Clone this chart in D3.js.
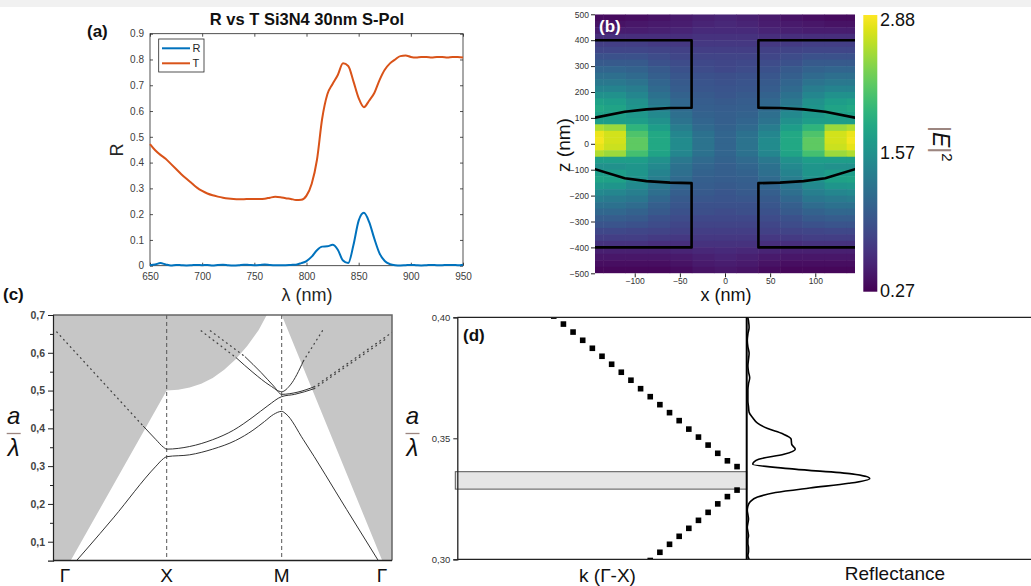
<!DOCTYPE html>
<html><head><meta charset="utf-8">
<script src="https://cdn.jsdelivr.net/npm/d3@7"></script>
<style>
body{margin:0;background:#fff}
svg{display:block}
text{font-family:"Liberation Sans",Arial,sans-serif}
</style>
</head><body>
<svg id="fig" width="1031" height="586"></svg>
<script>
// ---------- (a) spectra: wavelength (nm), reflectance R, transmittance T ----------
const wavelength = [650,655,660,665,670,675,680,685,690,695,700,705,710,715,720,725,730,735,740,745,750,755,760,765,770,775,780,785,790,795,800,805,810,815,820,825,830,835,840,845,850,855,860,865,870,875,880,885,890,895,900,905,910,915,920,925,930,935,940,945,950];
const transT = [0.472,0.448,0.430,0.415,0.395,0.375,0.355,0.337,0.320,0.303,0.290,0.280,0.273,0.268,0.264,0.261,0.259,0.258,0.258,0.259,0.259,0.259,0.260,0.264,0.267,0.266,0.262,0.259,0.255,0.256,0.272,0.318,0.410,0.570,0.665,0.705,0.740,0.785,0.775,0.715,0.650,0.615,0.640,0.670,0.720,0.760,0.785,0.800,0.813,0.815,0.810,0.808,0.810,0.810,0.808,0.810,0.810,0.808,0.810,0.810,0.808];
const reflR = [0.002,0.005,0.010,0.005,0.001,0.003,0.002,0.001,0.002,0.003,0.002,0.003,0.001,0.003,0.004,0.002,0.001,0.002,0.004,0.003,0.002,0.003,0.005,0.003,0.002,0.002,0.002,0.003,0.004,0.010,0.018,0.035,0.060,0.074,0.075,0.081,0.062,0.020,0.010,0.080,0.175,0.205,0.170,0.105,0.048,0.018,0.006,0.002,0.001,0.002,0.003,0.002,0.001,0.002,0.003,0.002,0.002,0.003,0.003,0.002,0.004];
const ticksLambda = [650,700,750,800,850,900,950];
const ticksR = [0,0.1,0.2,0.3,0.4,0.5,0.6,0.7,0.8,0.9];

// ---------- (b) |E|^2 map, right half (x >= 0); left half is its mirror image ----------
const fieldX = [0,24.5,49,73.5,98,122.5,147];           // column centres (nm)
const fieldZ = [487.5,462.5,437.5,412.5,387.5,362.5,337.5,312.5,287.5,262.5,237.5,212.5,187.5,162.5,137.5,112.5,87.5,62.5,37.5,12.5,
                -12.5,-37.5,-62.5,-87.5,-112.5,-137.5,-162.5,-187.5,-212.5,-237.5,-262.5,-287.5,-312.5,-337.5,-362.5,-387.5,-412.5,-437.5,-462.5,-487.5];
const fieldE2 = [
 [0.53,0.50,0.45,0.40,0.37,0.35,0.35],
 [0.56,0.53,0.48,0.45,0.43,0.40,0.40],
 [0.58,0.58,0.53,0.50,0.48,0.48,0.48],
 [0.64,0.64,0.61,0.61,0.61,0.61,0.61],
 [0.69,0.69,0.69,0.71,0.74,0.74,0.74],
 [0.74,0.74,0.77,0.79,0.82,0.82,0.82],
 [0.79,0.79,0.82,0.87,0.92,0.92,0.92],
 [0.82,0.84,0.87,0.92,1.00,1.00,1.00],
 [0.84,0.87,0.92,1.00,1.08,1.11,1.11],
 [0.90,0.92,0.97,1.05,1.16,1.21,1.21],
 [0.92,0.95,1.00,1.11,1.26,1.31,1.31],
 [0.95,0.97,1.03,1.16,1.37,1.44,1.44],
 [0.97,1.00,1.08,1.24,1.47,1.58,1.58],
 [1.00,1.03,1.13,1.31,1.58,1.71,1.76],
 [1.03,1.05,1.16,1.39,1.63,1.78,1.84],
 [1.05,1.08,1.21,1.50,1.65,1.73,1.76],
 [1.05,1.11,1.26,1.58,1.71,1.71,1.71],
 [1.08,1.16,1.37,1.71,1.97,2.49,2.57],
 [1.11,1.24,1.47,1.84,2.15,2.70,2.80],
 [1.11,1.26,1.52,1.84,2.23,2.70,2.83],
 [1.11,1.26,1.52,1.84,2.23,2.67,2.78],
 [1.11,1.24,1.47,1.78,2.10,2.49,2.57],
 [1.08,1.16,1.31,1.58,1.71,1.71,1.71],
 [1.05,1.11,1.24,1.50,1.63,1.58,1.58],
 [1.05,1.08,1.21,1.44,1.63,1.71,1.71],
 [1.03,1.05,1.16,1.37,1.58,1.76,1.78],
 [1.00,1.03,1.11,1.29,1.50,1.63,1.65],
 [0.97,1.00,1.05,1.21,1.39,1.47,1.50],
 [0.95,0.97,1.00,1.13,1.29,1.34,1.37],
 [0.92,0.92,0.97,1.05,1.18,1.24,1.24],
 [0.87,0.90,0.92,1.00,1.08,1.13,1.13],
 [0.84,0.84,0.87,0.92,1.00,1.03,1.03],
 [0.79,0.79,0.82,0.87,0.92,0.95,0.95],
 [0.74,0.74,0.77,0.79,0.82,0.84,0.84],
 [0.69,0.69,0.69,0.71,0.74,0.74,0.74],
 [0.64,0.64,0.61,0.61,0.64,0.64,0.64],
 [0.58,0.56,0.53,0.50,0.50,0.50,0.50],
 [0.53,0.50,0.45,0.43,0.43,0.43,0.43],
 [0.48,0.45,0.40,0.37,0.37,0.37,0.37],
 [0.43,0.40,0.35,0.32,0.32,0.32,0.32]
];
const e2Range = [0.27, 2.88];
const e2Ticks = [2.88, 1.57, 0.27];
// outline of the left pillar (nm); the right pillar is its mirror image
const pillarTop = [[-160,400],[-37,400],[-37,139],[-61,138],[-87,133],[-111,124],[-144,101],[-160,88]];
const pillarBottom = [[-160,-86],[-144,-98],[-111,-133],[-87,-144],[-61,-150],[-37,-152],[-37,-400],[-160,-400]];
const ticksZ = [-500,-400,-300,-200,-100,0,100,200,300,400,500];
const ticksXb = [-100,-50,0,50,100];

// ---------- (c) band diagram: k along Γ-X-M-Γ (0..3), frequency a/λ ----------
const kPoints = ["Γ","X","M","Γ"];
const lightLine = [[0,0],[1,0.5],[1.1,0.502],[1.2,0.508],[1.3,0.518],[1.4,0.533],[1.5,0.555],[1.6,0.583],[1.7,0.618],[1.8,0.66],[1.87,0.70],[1.93,0.74],[2,0.74],[2,0.70],[3,0]];
const guidedBands = [
 [[0,0],[0.5,0.163],[0.9,0.300],[0.97,0.320],[1,0.325],[1.2,0.330],[1.4,0.345],[1.6,0.368],[1.75,0.395],[1.85,0.418],[1.93,0.437],[2,0.445],[2.04,0.438],[2.2,0.37],[2.6,0.185],[3,0]],
 [[0.78,0.406],[0.9,0.37],[0.97,0.35],[1,0.345],[1.2,0.352],[1.4,0.37],[1.58,0.395],[1.75,0.43],[1.88,0.46],[2,0.484],[2.12,0.49],[2.3,0.505]],
 [[1.6,0.588],[1.75,0.548],[1.9,0.513],[2,0.497],[2.08,0.515],[2.2,0.578]],
 [[1.68,0.590],[1.82,0.548],[1.93,0.512],[2,0.49],[2.15,0.496],[2.3,0.51]]
];
const leakyBands = [
 [[-0.03,0.655],[0.78,0.406]],
 [[1.3,0.658],[1.6,0.588]],
 [[1.38,0.658],[1.68,0.590]],
 [[2.2,0.578],[2.38,0.66]],
 [[2.3,0.505],[2.98,0.64]],
 [[2.3,0.51],[3.05,0.66]]
];
const ticksC = [0.1,0.2,0.3,0.4,0.5,0.6,0.7];
const minorC = [0.15,0.25,0.35,0.45,0.55,0.65];

// ---------- (d) zoom near X: band points (k step index) and reflectance ----------
const upperK = [10,11,12,13,14,15,16,17,18,19,20,21,22,23,24,25,26,27,28,29];
const upperF = [0.4005,0.3972,0.3939,0.3905,0.3872,0.3839,0.3806,0.3773,0.3740,0.3705,0.3672,0.3639,0.3606,0.3573,0.3538,0.3505,0.3472,0.3438,0.3407,0.3383];
const lowerK = [20,21,22,23,24,25,26,27,28,29];
const lowerF = [0.2995,0.3029,0.3062,0.3095,0.3128,0.3161,0.3194,0.3229,0.3259,0.3286];
const gapBand = [0.3290, 0.3362];
const latticeA = 285;                     // lattice constant (nm)
const ticksD = [0.30,0.35,0.40];

const svg = d3.select("#fig");
svg.append("rect").attr("x",0).attr("y",0).attr("width",1031).attr("height",7).attr("fill","#f1f1f1");
const defs = svg.append("defs");
const comma = (d, n) => d.toFixed(n).replace(".", ",");

// ================= panel (a) =================
{
  const x = d3.scaleLinear([650,950],[150,463]);
  const y = d3.scaleLinear([0,0.9],[265.7,33.7]);
  const g = svg.append("g");
  const axc = "#262626";
  g.append("rect").attr("x",150).attr("y",33.7).attr("width",313).attr("height",232)
    .attr("fill","none").attr("stroke",axc).attr("stroke-width",0.8);
  g.append("g").attr("transform","translate(0,265.7)")
    .call(d3.axisBottom(x).tickValues(ticksLambda).tickSize(-3).tickPadding(7).tickFormat(d3.format("d")));
  g.append("g").attr("transform","translate(150,0)")
    .call(d3.axisLeft(y).tickValues(ticksR).tickSize(-3).tickPadding(6).tickFormat(d => d===0?"0":d3.format(".1f")(d)));
  // mirrored ticks on top and right edges
  g.append("g").attr("transform","translate(0,33.7)").call(d3.axisTop(x).tickValues(ticksLambda).tickSize(-3).tickFormat(""));
  g.append("g").attr("transform","translate(463,0)").call(d3.axisRight(y).tickValues(ticksR).tickSize(-3).tickFormat(""));
  g.selectAll(".domain").remove();
  g.selectAll(".tick line").attr("stroke",axc).attr("stroke-width",0.8);
  g.selectAll(".tick text").attr("fill","#404040").attr("font-size",10).attr("font-family","Liberation Sans, Arial");
  const line = d3.line().x(d => x(d[0])).y(d => y(d[1])).curve(d3.curveMonotoneX);
  g.append("path").datum(d3.zip(wavelength, reflR)).attr("d",line).attr("fill","none").attr("stroke","#0072BD").attr("stroke-width",2);
  g.append("path").datum(d3.zip(wavelength, transT)).attr("d",line).attr("fill","none").attr("stroke","#D95319").attr("stroke-width",2);
  // legend
  g.append("rect").attr("x",158.7).attr("y",39).attr("width",45.3).attr("height",33).attr("fill","#fff").attr("stroke","#262626").attr("stroke-width",0.8);
  [["R","#0072BD",48.3],["T","#D95319",63.3]].forEach(([t,c,yy]) => {
    g.append("line").attr("x1",162).attr("x2",190).attr("y1",yy).attr("y2",yy).attr("stroke",c).attr("stroke-width",2);
    g.append("text").attr("x",192.5).attr("y",yy+4).attr("font-size",11).attr("fill","#262626").text(t);
  });
  g.append("text").attr("x",307).attr("y",25).attr("text-anchor","middle").attr("font-size",16.5).attr("font-weight","bold").attr("fill","#111").text("R vs T Si3N4 30nm S-Pol");
  g.append("text").attr("transform","translate(123,150) rotate(-90)").attr("text-anchor","middle").attr("font-size",18).attr("fill","#262626").text("R");
  g.append("text").attr("x",307).attr("y",301).attr("text-anchor","middle").attr("font-size",18).attr("fill","#262626").text("λ (nm)");
  svg.append("text").attr("x",87).attr("y",37).attr("font-size",17).attr("font-weight","bold").attr("fill","#111").text("(a)");
}

// ================= panel (b) =================
{
  const x = d3.scaleLinear([-144,144],[595,855]);
  const z = d3.scaleLinear([-500,500],[273.3,14.3]);
  const color = d3.scaleSequential(d3.interpolateViridis).domain(e2Range);
  defs.append("clipPath").attr("id","clipB").append("rect")
    .attr("x",595).attr("y",14.3).attr("width",260).attr("height",259);
  const g = svg.append("g").attr("clip-path","url(#clipB)");
  const cells = [];
  fieldZ.forEach((zc, i) => fieldX.forEach((xc, j) => {
    cells.push({x: xc, z: zc, v: fieldE2[i][j]});
    if (xc > 0) cells.push({x: -xc, z: zc, v: fieldE2[i][j]});
  }));
  const dx = 24.5, dz = 25;
  g.selectAll("rect.cell").data(cells).join("rect").attr("class","cell")
    .attr("x", d => x(d.x - dx/2)).attr("width", x(dx) - x(0) + 0.5)
    .attr("y", d => z(d.z + dz/2)).attr("height", z(0) - z(dz) + 0.5)
    .attr("fill", d => color(d.v));
  const outline = d3.line().x(d => x(d[0])).y(d => z(d[1]));
  const mirror = pts => pts.map(p => [-p[0], p[1]]);
  [pillarTop, pillarBottom, mirror(pillarTop), mirror(pillarBottom)].forEach(pts => {
    g.append("path").attr("d", outline(pts)).attr("fill","none").attr("stroke","#000").attr("stroke-width",2.6).attr("stroke-linejoin","round");
  });
  // axes
  const ay = svg.append("g").attr("transform","translate(595,0)")
    .call(d3.axisLeft(z).tickValues(ticksZ).tickSize(4).tickPadding(2));
  const ax = svg.append("g").attr("transform","translate(0,273.3)")
    .call(d3.axisBottom(x).tickValues(ticksXb).tickSize(4).tickPadding(1));
  [ax, ay].forEach(a => {
    a.select(".domain").remove();
    a.selectAll(".tick line").attr("stroke","#222").attr("stroke-width",1);
    a.selectAll(".tick text").attr("fill","#333").attr("font-size",8.5);
  });
  svg.append("text").attr("transform","translate(570,145) rotate(-90)").attr("text-anchor","middle").attr("font-size",19).attr("fill","#111").text("z (nm)");
  svg.append("text").attr("x",726).attr("y",301).attr("text-anchor","middle").attr("font-size",18).attr("fill","#111").text("x (nm)");
  svg.append("text").attr("x",599).attr("y",32).attr("font-size",17).attr("font-weight","bold").attr("fill","#fff").text("(b)");
  // colour bar
  const grad = defs.append("linearGradient").attr("id","viridisGrad").attr("x1",0).attr("x2",0).attr("y1",1).attr("y2",0);
  d3.range(0, 1.0001, 0.05).forEach(t => grad.append("stop").attr("offset", t).attr("stop-color", d3.interpolateViridis(t)));
  const cb = d3.scaleLinear(e2Range, [291.7, 15]);
  svg.append("rect").attr("x",863.3).attr("y",cb(e2Range[1])).attr("width",14).attr("height",cb(e2Range[0]) - cb(e2Range[1])).attr("fill","url(#viridisGrad)");
  const lblY = {2.88: 26, 1.57: 159, 0.27: 297};
  e2Ticks.forEach(v => svg.append("text").attr("x",880).attr("y",lblY[v]).attr("font-size",18).attr("fill","#111").text(v.toFixed(2)));
  const lab = svg.append("text").attr("transform","translate(933,126) rotate(90)").attr("font-size",23).attr("font-family","Liberation Serif, serif");
  lab.append("tspan").attr("fill","#9c8680").text("|");
  lab.append("tspan").attr("font-style","italic").attr("fill","#111").text("E");
  lab.append("tspan").attr("fill","#9c8680").text("|");
  lab.append("tspan").attr("dy",-9).attr("font-size",15).attr("fill","#111").text("2");
}

// fraction label a/λ
function aOverLambda(cx, cyTop) {
  const g = svg.append("g");
  g.append("text").attr("x",cx).attr("y",cyTop).attr("text-anchor","middle").attr("font-size",24).attr("font-style","italic").attr("font-family","Liberation Serif, serif").attr("fill","#111").text("a");
  g.append("line").attr("x1",cx-7).attr("x2",cx+7).attr("y1",cyTop+10).attr("y2",cyTop+10).attr("stroke","#9c8680").attr("stroke-width",1.3);
  g.append("text").attr("x",cx).attr("y",cyTop+32).attr("text-anchor","middle").attr("font-size",24).attr("font-style","italic").attr("font-family","Liberation Serif, serif").attr("fill","#111").text("λ");
}

// ================= panel (c) =================
{
  const k = d3.scaleLinear([0,1,2,3],[60,166.7,281.7,390]);
  const y = d3.scaleLinear([0.05,0.7],[560.6,315]);
  const L = 53, R = 392, T = 315, B = 560.6;
  defs.append("clipPath").attr("id","clipC").append("rect").attr("x",L).attr("y",T).attr("width",R-L).attr("height",B-T);
  const g = svg.append("g").attr("clip-path","url(#clipC)");
  g.append("rect").attr("x",L).attr("y",T).attr("width",R-L).attr("height",B-T).attr("fill","#c6c6c6");
  const cone = d3.line().x(d => k(d[0])).y(d => y(d[1])).curve(d3.curveLinear);
  g.append("path").attr("d", cone(lightLine) + "Z").attr("fill","#fff");
  const band = d3.line().x(d => k(d[0])).y(d => y(d[1])).curve(d3.curveMonotoneX);
  [1,2].forEach(i => g.append("line").attr("x1",k(i)).attr("x2",k(i)).attr("y1",T).attr("y2",B)
     .attr("stroke","#555").attr("stroke-width",1).attr("stroke-dasharray","4,3"));
  guidedBands.forEach(b => g.append("path").attr("d", band(b)).attr("fill","none").attr("stroke","#333").attr("stroke-width",1));
  leakyBands.forEach(b => g.append("path").attr("d", band(b)).attr("fill","none").attr("stroke","#444").attr("stroke-width",1.3)
     .attr("stroke-dasharray","0.8,4.2").attr("stroke-linecap","round"));
  // frame
  svg.append("path").attr("d",`M${L},${T}H${R}V${B}`).attr("fill","none").attr("stroke","#666").attr("stroke-width",1.5);
  const ay = svg.append("g").attr("transform",`translate(${L},0)`)
    .call(d3.axisLeft(y).tickValues(ticksC).tickSize(5).tickPadding(3).tickFormat(d => comma(d,1)));
  ay.select(".domain").attr("stroke","#222").attr("stroke-width",1.2);
  ay.selectAll(".tick line").attr("stroke","#222");
  ay.selectAll(".tick text").attr("fill","#444").attr("font-size",10.5).attr("font-weight","bold");
  svg.append("g").attr("transform",`translate(${L},0)`).call(d3.axisLeft(y).tickValues(minorC).tickSize(3).tickFormat(""))
    .call(a => a.select(".domain").remove()).selectAll("line").attr("stroke","#222");
  svg.append("line").attr("x1",L).attr("x2",R).attr("y1",B).attr("y2",B).attr("stroke","#222").attr("stroke-width",1.5);
  const labelShift = [5, 0, 0, -8];
  kPoints.forEach((p, i) => svg.append("text").attr("x", k(i) + labelShift[i]).attr("y",582).attr("text-anchor","middle")
     .attr("font-size",19).attr("fill","#111").text(p));
  svg.append("text").attr("x",3).attr("y",300).attr("font-size",17).attr("font-weight","bold").attr("fill","#111").text("(c)");
  aOverLambda(13.7, 423.5);
}

// ================= panel (d) =================
{
  const k = d3.scaleLinear([0,30],[457.3,746.7]);
  const y = d3.scaleLinear([0.30,0.40],[559.3,317.3]);
  const r = d3.scaleLinear([0,0.2],[746.7,866.7]);
  const L = 457.3, M = 746.7, T = 317.3, B = 559.3;
  defs.append("clipPath").attr("id","clipD").append("rect").attr("x",L).attr("y",T).attr("width",M-L).attr("height",B-T);
  defs.append("clipPath").attr("id","clipDR").append("rect").attr("x",M-4).attr("y",T).attr("width",1031-M+4).attr("height",B-T);
  svg.append("rect").attr("x",L-2).attr("y",y(gapBand[1])).attr("width",M-L+2).attr("height",y(gapBand[0]) - y(gapBand[1]))
    .attr("fill","#e5e5e5").attr("stroke","#555").attr("stroke-width",1);
  const g = svg.append("g").attr("clip-path","url(#clipD)");
  const sq = 5.6;
  const pts = d3.zip(upperK, upperF).concat(d3.zip(lowerK, lowerF));
  g.selectAll("rect.pt").data(pts).join("rect").attr("class","pt")
    .attr("x", d => k(d[0]) - sq/2).attr("y", d => y(d[1]) - sq/2).attr("width",sq).attr("height",sq).attr("fill","#000");
  // reflectance against normalised frequency
  const refl = d3.zip(wavelength, reflR).map(d => [latticeA / d[0], d[1]]).sort((a,b) => a[0]-b[0]);
  svg.append("g").attr("clip-path","url(#clipDR)").append("path").datum(refl)
    .attr("d", d3.line().x(d => r(d[1])).y(d => y(d[0])).curve(d3.curveMonotoneY))
    .attr("fill","none").attr("stroke","#000").attr("stroke-width",1.6);
  // frame
  svg.append("line").attr("x1",L).attr("x2",1031).attr("y1",T).attr("y2",T).attr("stroke","#222").attr("stroke-width",1.3);
  svg.append("line").attr("x1",L).attr("x2",1031).attr("y1",B).attr("y2",B).attr("stroke","#222").attr("stroke-width",1.3);
  svg.append("line").attr("x1",M).attr("x2",M).attr("y1",T).attr("y2",B).attr("stroke","#000").attr("stroke-width",2);
  const ay = svg.append("g").attr("transform",`translate(${L},0)`)
    .call(d3.axisLeft(y).tickValues(ticksD).tickSize(4).tickPadding(3).tickFormat(d => comma(d,2)));
  ay.select(".domain").attr("stroke","#222").attr("stroke-width",1.3);
  ay.selectAll(".tick line").attr("stroke","#222");
  ay.selectAll(".tick text").attr("fill","#333").attr("font-size",9.5);
  svg.append("text").attr("x",463).attr("y",341).attr("font-size",17).attr("font-weight","bold").attr("fill","#111").text("(d)");
  svg.append("text").attr("x",607.5).attr("y",582).attr("text-anchor","middle").attr("font-size",19).attr("fill","#111").text("k (Γ-X)");
  svg.append("text").attr("x",895).attr("y",580).attr("text-anchor","middle").attr("font-size",19).attr("fill","#111").text("Reflectance");
  aOverLambda(412.5, 423.5);
}
</script>
</body></html>
